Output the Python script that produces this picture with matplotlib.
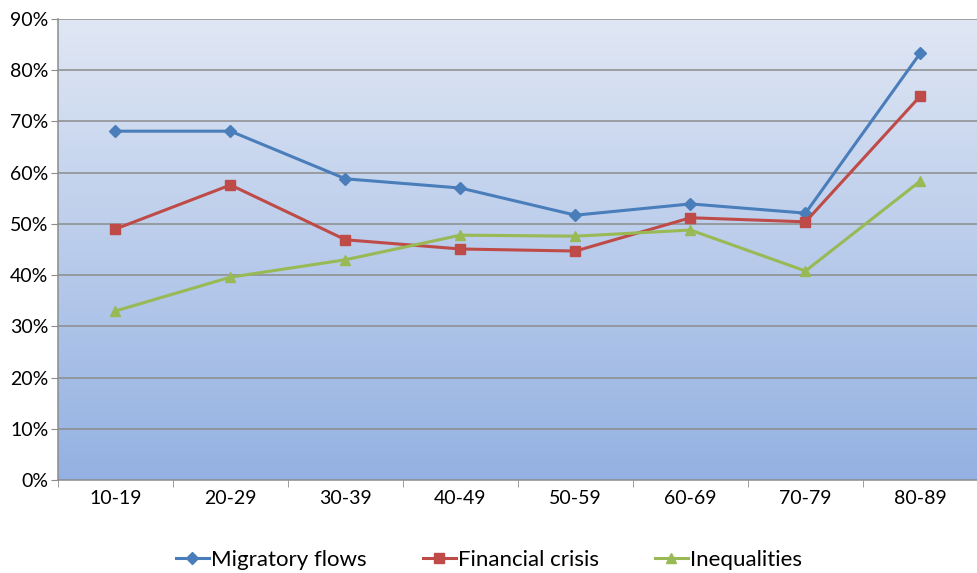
"""Age-group line chart: migratory flows / financial crisis / inequalities."""

import matplotlib
matplotlib.use("Agg")
import matplotlib.pyplot as plt
import numpy as np
from matplotlib.colors import LinearSegmentedColormap
from matplotlib.ticker import PercentFormatter

age_groups = ["10-19", "20-29", "30-39", "40-49", "50-59", "60-69", "70-79", "80-89"]
migratory = [68.1, 68.1, 58.8, 57.0, 51.7, 53.9, 52.1, 83.4]
financial = [49.0, 57.6, 46.9, 45.1, 44.7, 51.2, 50.4, 75.0]
inequalities = [33.0, 39.6, 43.0, 47.8, 47.6, 48.8, 40.8, 58.4]

plt.rcParams["font.family"] = ["Lato", "DejaVu Sans"]

fig = plt.figure(figsize=(9.78, 5.73), dpi=100)
ax = fig.add_axes([58 / 978, 93 / 573, 1 - 58 / 978, 461 / 573])

x = np.arange(len(age_groups))
ax.set_xlim(-0.5, len(age_groups) - 0.5)
ax.set_ylim(0, 90)

# vertical gradient background, light at top, blue at bottom
grad = LinearSegmentedColormap.from_list("bg", ["#93b1e2", "#e0e7f4"])
ax.imshow(np.linspace(0, 1, 256).reshape(-1, 1), cmap=grad, aspect="auto",
          origin="lower", extent=(-0.5, len(age_groups) - 0.5, 0, 90), zorder=0)

for y in range(10, 91, 10):
    ax.axhline(y, color="#8c8c8c", lw=1.1, zorder=1)

ax.plot(x, migratory, color="#4a7ebb", lw=2.2, marker="D", ms=6, label="Migratory flows", zorder=3)
ax.plot(x, financial, color="#be4b48", lw=2.2, marker="s", ms=7, label="Financial crisis", zorder=3)
ax.plot(x, inequalities, color="#98b954", lw=2.2, marker="^", ms=7, label="Inequalities", zorder=3)

ax.set_xticks(x)
ax.set_xticklabels(age_groups)
ax.set_xticks(np.arange(len(age_groups) + 1) - 0.5, minor=True)
ax.tick_params(axis="x", which="major", length=0, labelsize=14, pad=7, colors="black")
ax.tick_params(axis="x", which="minor", length=5, color="#8c8c8c")
ax.set_yticks(range(0, 91, 10))
ax.yaxis.set_major_formatter(PercentFormatter(decimals=0))
ax.tick_params(axis="y", length=5, color="#8c8c8c", labelsize=14, pad=2)

for side in ["top", "right"]:
    ax.spines[side].set_visible(False)
for side in ["left", "bottom"]:
    ax.spines[side].set_color("#8c8c8c")
    ax.spines[side].set_linewidth(1.1)

fig.legend(loc="center", bbox_to_anchor=(0.5, 1 - 560 / 573), ncol=3, frameon=False,
           fontsize=16, handlelength=1.5, handletextpad=0.1, columnspacing=2.5)

fig.savefig("out.png", dpi=100)
